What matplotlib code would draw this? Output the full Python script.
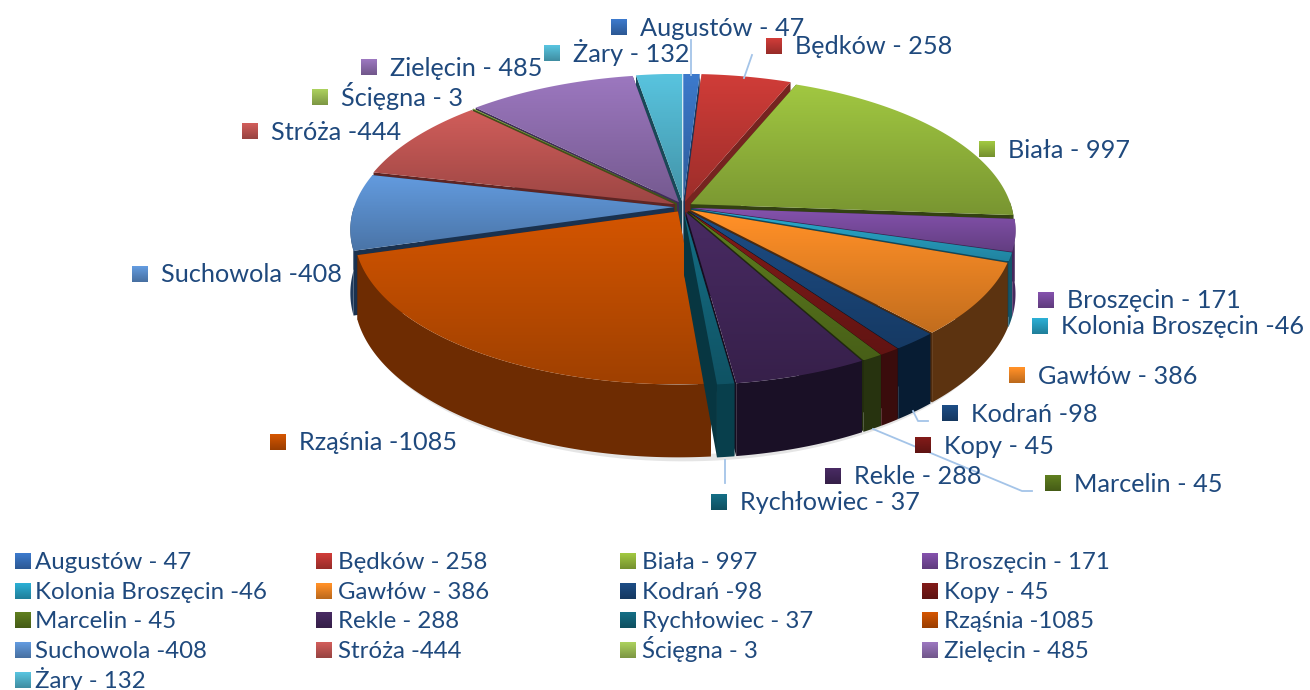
import numpy as np
import matplotlib
matplotlib.use('Agg')
import matplotlib.pyplot as plt
from matplotlib.patches import Polygon
from matplotlib.colors import to_rgb

names = ["Augustów - 47", "Będków - 258", "Biała - 997", "Broszęcin - 171",
         "Kolonia Broszęcin -46", "Gawłów - 386", "Kodrań -98", "Kopy - 45",
         "Marcelin - 45", "Rekle - 288", "Rychłowiec - 37", "Rząśnia -1085",
         "Suchowola -408", "Stróża -444", "Ścięgna - 3", "Zielęcin - 485", "Żary - 132"]
values = [47, 258, 997, 171, 46, 386, 98, 45, 45, 288, 37, 1085, 408, 444, 3, 485, 132]
colors = ["#3a75c4", "#c83a36", "#9bc03f", "#7f4fa6", "#2aa8cc", "#f98c26", "#1c4a80", "#7d1a18",
          "#5c7a1e", "#46295f", "#146a80", "#cc5200", "#5f95d6", "#c95a57", "#a5c85a", "#9673b8", "#55bcd6"]
side_colors = ["#20406c", "#8b2a26", "#3c4d15", "#47295f", "#14556a", "#5c3310", "#071c33", "#3a0c0c",
               "#27330f", "#1a1026", "#083f4c", "#6e2c02", "#1f3a5c", "#6e2c2a", "#4a5e1e", "#4a3566", "#1d5566"]
# label square x, label y
label_x = [611, 766, 979, 1038, 1032, 1009, 942, 915, 1045, 825, 711, 270, 132, 242, 312, 361, 544]
label_y = [27, 46, 149, 300, 326, 375, 413, 445, 483, 476, 502, 442, 274, 131, 97, 67, 53]
legend_col_x = [15, 316, 620, 922]
legend_text_x = [35, 338, 642, 944]
legend_row_y = [561, 591, 620, 650, 680]

text_col = "#1f497d"
cx, cy = 683, 207
rx, ry, k = 320, 147, 0.15
depth = 62
explode = 9


def project(t, r):
    u, v = r * np.sin(t), r * np.cos(t)
    s = 1 / (1 + k * v)
    return rx * u * s, -ry * v * s, depth * s


def shade(c, f):
    return tuple(min(1, x * f) for x in to_rgb(c))


def gradient_fill(ax, verts, c, top=1.04, bottom=0.78, zorder=1):
    verts = np.array(verts)
    x0, y0 = verts.min(axis=0)
    x1, y1 = verts.max(axis=0)
    grad = np.linspace(top, bottom, 64)[:, None, None] * np.array(to_rgb(c))[None, None, :]
    im = ax.imshow(np.clip(grad, 0, 1), extent=[x0, x1, y1, y0], aspect='auto', zorder=zorder)
    patch = Polygon(verts, transform=ax.transData, fc='none', ec='none')
    ax.add_patch(patch)
    im.set_clip_path(patch)


fig = plt.figure(figsize=(13.1, 6.9), dpi=100)
ax = fig.add_axes([0, 0, 1, 1])
plt.rcParams['font.family'] = ['Lato', 'DejaVu Sans']

total = sum(values)
edges = np.cumsum([0] + values) / total * 2 * np.pi
mids = (edges[:-1] + edges[1:]) / 2

# soft shadow below the front of the pie
t = np.linspace(np.pi / 2, 3 * np.pi / 2, 200)
sx, sy, sd = project(t, 1)
ax.plot(cx + sx, cy + sy + sd + 5, color='#999999', lw=5, alpha=0.25, zorder=0)

order = np.argsort(np.cos(mids))[::-1]
z = 1
for i in order:
    t = np.linspace(edges[i], edges[i + 1], max(4, int(values[i] / 8)))
    ox = explode * np.sin(mids[i])
    oy = -explode * np.cos(mids[i]) * 0.6
    px, py, pd = project(t, 1)
    px, py = px + cx + ox, py + cy + oy
    ax0, ay0 = cx + ox, cy + oy
    d0 = depth
    side = side_colors[i]
    # cut walls, then outer wall
    for j in [0, -1]:
        wall = [(ax0, ay0), (px[j], py[j]), (px[j], py[j] + pd[j]), (ax0, ay0 + d0)]
        ax.add_patch(Polygon(wall, fc=shade(side, 0.85), ec='none', zorder=z))
    z += 1
    front = np.cos(t) < 0.02
    if front.any():
        fx, fy, fd = px[front], py[front], pd[front]
        wall = list(zip(fx, fy)) + list(zip(fx[::-1], (fy + fd)[::-1]))
        ax.add_patch(Polygon(wall, fc=side, ec='none', zorder=z))
    z += 1
    face = [(ax0, ay0)] + list(zip(px, py))
    gradient_fill(ax, face, colors[i], zorder=z)
    z += 1

# leader lines
line_col = "#a4c4e8"
ax.plot([691, 691], [40, 75], color=line_col, lw=1.3, zorder=z)
ax.plot([752, 744], [55, 78], color=line_col, lw=1.3, zorder=z)
ax.plot([913, 918, 928], [411, 421, 421], color=line_col, lw=1.3, zorder=z)
ax.plot([725, 725], [460, 483], color=line_col, lw=1.3, zorder=z)
ax.plot([873, 1022, 1032], [429, 491, 491], color=line_col, lw=1.3, zorder=z)
z += 1


def key(x, y, c, size=16):
    gradient_fill(ax, [(x, y - size / 2), (x + size, y - size / 2), (x + size, y + size / 2), (x, y + size / 2)],
                  c, top=1.05, bottom=0.75, zorder=z)


# data labels
for i, name in enumerate(names):
    key(label_x[i], label_y[i], colors[i])
    ax.text(label_x[i] + 29, label_y[i] + 8.5, name, color=text_col, fontsize=18.2, va='baseline', ha='left',
            zorder=z + 1)

# legend, filled row by row
for i, name in enumerate(names):
    row, col = divmod(i, 4)
    key(legend_col_x[col], legend_row_y[row], colors[i], size=16)
    ax.text(legend_text_x[col], legend_row_y[row] + 8, name, color=text_col, fontsize=17.3, va='baseline',
            ha='left', zorder=z + 1)

ax.set_xlim(0, 1310)
ax.set_ylim(690, 0)
ax.axis('off')
fig.savefig("out.png", dpi=100)
